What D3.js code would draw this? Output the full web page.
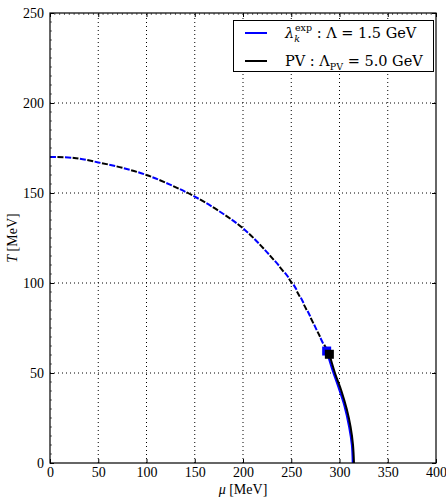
<!DOCTYPE html>
<html>
<head>
<meta charset="utf-8">
<script src="https://cdn.jsdelivr.net/npm/d3@7"></script>
<style>
  body { margin: 0; background: #fff; }
  svg { display: block; }
  svg text { font-family: "Liberation Serif", "DejaVu Serif", serif; }
  svg .legend text { font-family: "DejaVu Serif", serif; }
</style>
</head>
<body>
<div id="chart"></div>
<script>
// crossover (dashed) lines
const muCrossBlue = [0, 25, 50, 75, 100, 125, 150, 175, 200, 225, 250, 265, 278, 286.7];
const TCrossBlue  = [170, 169.5, 167, 164, 160, 154.5, 148, 140, 130.4, 117, 101, 86.5, 72, 62.2];
const muCrossBlack = [0, 25, 50, 75, 100, 125, 150, 175, 200, 225, 250, 266, 280, 289.5];
const TCrossBlack  = [170, 169.5, 167, 164, 160, 154.5, 148, 140, 130.4, 117, 100.5, 85, 70, 60.4];

// first order (solid) lines
const muFirstBlue = [286.7, 292.5, 299, 305, 310, 312.8, 313.7];
const TFirstBlue  = [62.2, 52, 42, 32, 20, 10, 0];
const muFirstBlack = [289.5, 295.3, 302, 307.5, 311.5, 314, 315];
const TFirstBlack  = [60.4, 50, 40, 30, 20, 10, 0];

// critical end points
const cepBlue = [286.7, 62.2];
const cepBlack = [289.5, 60.4];

const xTicks = [0, 50, 100, 150, 200, 250, 300, 350, 400];
const yTicks = [0, 50, 100, 150, 200, 250];

const width = 446;
const height = 498;
const margin = { top: 13, right: 10, bottom: 35, left: 50 };

const x = d3.scaleLinear().domain([0, 400]).range([margin.left, width - margin.right]);
const y = d3.scaleLinear().domain([0, 250]).range([height - margin.bottom, margin.top]);

const svg = d3.select("#chart")
    .append("svg")
    .attr("width", width)
    .attr("height", height);

// grid
const grid = svg.append("g")
    .attr("stroke", "#000")
    .attr("stroke-width", 1)
    .attr("stroke-dasharray", "1,3");
grid.selectAll("line.vx")
    .data(xTicks.slice(1, -1))
    .join("line")
        .attr("x1", d => x(d)).attr("x2", d => x(d))
        .attr("y1", y(0)).attr("y2", y(250));
grid.selectAll("line.hy")
    .data(yTicks.slice(1, -1))
    .join("line")
        .attr("class", "hy")
        .attr("x1", x(0)).attr("x2", x(400))
        .attr("y1", d => y(d)).attr("y2", d => y(d));

const toPts = (xs, ys) => xs.map((d, i) => [d, ys[i]]);
const line = d3.line().x(d => x(d[0])).y(d => y(d[1])).curve(d3.curveCatmullRom);

svg.append("clipPath").attr("id", "clip")
    .append("rect")
    .attr("x", x(0)).attr("y", y(250))
    .attr("width", x(400) - x(0)).attr("height", y(0) - y(250));

const plot = svg.append("g").attr("clip-path", "url(#clip)");

// dashed crossover: blue and black dashes interleave
plot.append("path")
    .datum(toPts(muCrossBlue, TCrossBlue))
    .attr("d", line)
    .attr("fill", "none")
    .attr("stroke", "#0000ff")
    .attr("stroke-width", 2)
    .attr("stroke-dasharray", "6,9");

plot.append("path")
    .datum(toPts(muCrossBlack, TCrossBlack))
    .attr("d", line)
    .attr("fill", "none")
    .attr("stroke", "#000")
    .attr("stroke-width", 2)
    .attr("stroke-dasharray", "6,9")
    .attr("stroke-dashoffset", 7.5);

plot.append("path")
    .datum(toPts(muFirstBlue, TFirstBlue))
    .attr("d", line)
    .attr("fill", "none")
    .attr("stroke", "#0000ff")
    .attr("stroke-width", 2);

plot.append("path")
    .datum(toPts(muFirstBlack, TFirstBlack))
    .attr("d", line)
    .attr("fill", "none")
    .attr("stroke", "#000")
    .attr("stroke-width", 2);

const sq = 9;
plot.append("rect")
    .attr("x", x(cepBlue[0]) - sq / 2).attr("y", y(cepBlue[1]) - sq / 2)
    .attr("width", sq).attr("height", sq)
    .attr("fill", "#0000ff");
plot.append("rect")
    .attr("x", x(cepBlack[0]) - sq / 2).attr("y", y(cepBlack[1]) - sq / 2)
    .attr("width", sq).attr("height", sq)
    .attr("fill", "#000");

// axes
const styleAxis = g => {
    g.attr("font-family", null).attr("font-size", null);
    g.select(".domain").remove();
    g.selectAll("line").attr("stroke", "#000");
    g.selectAll("text")
        .style("font-family", "'Liberation Serif', 'DejaVu Serif', serif")
        .style("font-size", "14px")
        .attr("fill", "#000");
};

svg.append("g")
    .attr("transform", `translate(0, ${y(0)})`)
    .call(d3.axisBottom(x).tickValues(xTicks).tickSizeInner(-4).tickSizeOuter(0).tickPadding(4))
    .call(styleAxis);

svg.append("g")
    .attr("transform", `translate(0, ${y(250)})`)
    .call(d3.axisTop(x).tickValues(xTicks).tickSizeInner(-4).tickSizeOuter(0).tickFormat(""))
    .call(styleAxis);

svg.append("g")
    .attr("transform", `translate(${x(0)}, 0)`)
    .call(d3.axisLeft(y).tickValues(yTicks).tickSizeInner(-4).tickSizeOuter(0).tickPadding(6))
    .call(styleAxis);

svg.append("g")
    .attr("transform", `translate(${x(400)}, 0)`)
    .call(d3.axisRight(y).tickValues(yTicks).tickSizeInner(-4).tickSizeOuter(0).tickFormat(""))
    .call(styleAxis);

// minor ticks on top and left
const minorX = d3.range(0, 401, 5).filter(d => d % 50 !== 0);
const minorY = d3.range(0, 251, 5).filter(d => d % 50 !== 0);
svg.append("g").selectAll("line")
    .data(minorX)
    .join("line")
        .attr("x1", d => x(d)).attr("x2", d => x(d))
        .attr("y1", y(250)).attr("y2", y(250) + 2)
        .attr("stroke", "#000").attr("stroke-width", 0.6);
svg.append("g").selectAll("line")
    .data(minorY)
    .join("line")
        .attr("x1", x(0)).attr("x2", x(0) + 2)
        .attr("y1", d => y(d)).attr("y2", d => y(d))
        .attr("stroke", "#000").attr("stroke-width", 0.6);

// frame
svg.append("rect")
    .attr("x", x(0)).attr("y", y(250))
    .attr("width", x(400) - x(0)).attr("height", y(0) - y(250))
    .attr("fill", "none")
    .attr("stroke", "#000")
    .attr("stroke-width", 1.2);

// axis labels
const xl = svg.append("text")
    .attr("x", (x(0) + x(400)) / 2)
    .attr("y", 494)
    .attr("text-anchor", "middle")
    .attr("font-size", 14);
xl.append("tspan").attr("font-style", "italic").text("μ");
xl.append("tspan").text(" [MeV]");

const yl = svg.append("text")
    .attr("transform", `translate(17, ${(y(0) + y(250)) / 2}) rotate(-90)`)
    .attr("text-anchor", "middle")
    .attr("font-size", 14);
yl.append("tspan").attr("font-style", "italic").text("T");
yl.append("tspan").text(" [MeV]");

// legend
const lg = svg.append("g").attr("class", "legend");
lg.append("rect")
    .attr("x", 233.5).attr("y", 20.5)
    .attr("width", 200).attr("height", 51)
    .attr("fill", "#fff")
    .attr("stroke", "#000")
    .attr("stroke-width", 1);
lg.append("line")
    .attr("x1", 245).attr("x2", 267).attr("y1", 33).attr("y2", 33)
    .attr("stroke", "#0000ff").attr("stroke-width", 2);
lg.append("line")
    .attr("x1", 245).attr("x2", 267).attr("y1", 61).attr("y2", 61)
    .attr("stroke", "#000").attr("stroke-width", 2);

const t1 = lg.append("text").attr("x", 285).attr("y", 38).attr("font-size", 14.5);
t1.append("tspan").attr("font-style", "italic").text("λ");
t1.append("tspan").attr("font-style", "italic").attr("font-size", 9.5).attr("dy", 4).text("k");
t1.append("tspan").attr("font-size", 9.5).attr("dx", -5).attr("dy", -11).text("exp");
t1.append("tspan").attr("dy", 7).text(" : Λ = 1.5 GeV");

const t2 = lg.append("text").attr("x", 285).attr("y", 66).attr("font-size", 14.5);
t2.append("tspan").text("PV : Λ");
t2.append("tspan").attr("font-size", 9.5).attr("dy", 4).text("PV");
t2.append("tspan").attr("dy", -4).text(" = 5.0 GeV");
</script>
</body>
</html>
